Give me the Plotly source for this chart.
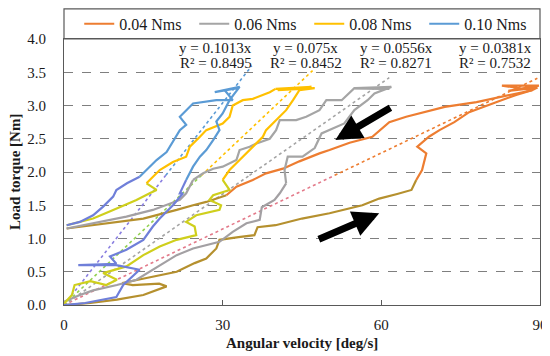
import plotly.graph_objects as go

# ---------------- data ----------------
damping_labels = ["0.04 Nms", "0.06 Nms", "0.08 Nms", "0.10 Nms"]
main_colors = ["#ED7D31", "#A5A5A5", "#FFC000", "#5B9BD5"]
low_colors = ["#B5902E", "#A3A0A3", "#CFCF1C", "#6F7FD9"]
trend_low_colors = ["#E37A8A", "#A5A5A5", "#92D050", "#8A7FE0"]

slopes = [0.0381, 0.0556, 0.075, 0.1013]
r2 = [0.7532, 0.8271, 0.8452, 0.8495]
trend_x_end = [89.5, 61.5, 47.0, 35.5]

# 0.04 Nms
v004_load_low_x = [0, 5, 10, 15, 19.4, 18, 13, 11, 14, 18, 21.3, 24.7, 26.9, 28.8, 29.4, 33, 36, 36.6, 40, 45, 50.2, 56.4, 59.6, 63, 65.7, 66.6]
v004_load_low_y = [0, 0.03, 0.08, 0.15, 0.28, 0.32, 0.3, 0.33, 0.38, 0.44, 0.5, 0.63, 0.7, 0.85, 0.98, 1.02, 1.05, 1.17, 1.2, 1.3, 1.38, 1.5, 1.6, 1.67, 1.73, 1.88]
v004_load_high_x = [66.6, 67.7, 68.5, 66.8, 69, 71, 73.8, 76.6, 81.7, 85.5, 88.5, 82.8, 89.8, 84, 89.5]
v004_load_high_y = [1.88, 2.03, 2.28, 2.38, 2.53, 2.63, 2.75, 2.9, 3.05, 3.16, 3.23, 3.3, 3.3, 3.22, 3.27]
v004_unload_high_x = [89.5, 88.5, 78, 72, 64.7, 61.5, 58.3, 54, 50.2, 48.3, 44.5, 41.4, 38.2, 35.7, 32.6, 30.7]
v004_unload_high_y = [3.27, 3.23, 3.05, 2.98, 2.83, 2.75, 2.53, 2.44, 2.33, 2.28, 2.16, 2.05, 1.98, 1.88, 1.78, 1.65]
v004_unload_low_x = [30.7, 26.9, 24.4, 21.3, 15, 8.7, 0.5]
v004_unload_low_y = [1.65, 1.55, 1.5, 1.43, 1.3, 1.23, 1.15]

# 0.06 Nms
v006_load_low_x = [0, 3, 5.5, 10, 13.7, 18.1, 21.3, 24.4, 29.4, 31.9, 34.5, 37, 37.4, 39.8, 40.8, 42]
v006_load_low_y = [0.05, 0.15, 0.22, 0.3, 0.38, 0.6, 0.75, 0.85, 0.95, 1.1, 1.23, 1.28, 1.47, 1.58, 1.68, 1.83]
v006_load_high_x = [42, 41.7, 42.3, 45.1, 47.4, 48.7, 53, 54.9, 57.4, 58.7, 61.9, 55, 61.5]
v006_load_high_y = [1.83, 2.03, 2.23, 2.23, 2.36, 2.58, 2.73, 2.93, 3.08, 3.18, 3.28, 3.26, 3.25]
v006_unload_high_x = [61.5, 54.9, 52.5, 49.6, 48.3, 45.8, 43.9, 40.8, 40.1, 38.9, 36.4, 35.1, 33.2, 32.6, 30, 28.2, 26.3, 24.4]
v006_unload_high_y = [3.25, 3.26, 3.08, 3.08, 2.93, 2.83, 2.78, 2.78, 2.63, 2.5, 2.43, 2.38, 2.33, 2.18, 2.08, 2.05, 1.98, 1.88]
v006_unload_low_x = [24.4, 23.1, 21.9, 16.8, 11.8, 5.5, 0.5]
v006_unload_low_y = [1.88, 1.68, 1.58, 1.43, 1.33, 1.23, 1.15]

# 0.08 Nms
v008_load_low_x = [0, 1.5, 2, 5, 8, 10, 7.4, 11.8, 15, 18.1, 21.3, 25, 24.7, 23.1, 25, 29.4, 29.7, 27.5, 28.2, 31.3, 30]
v008_load_low_y = [0.02, 0.15, 0.3, 0.36, 0.3, 0.38, 0.48, 0.58, 0.75, 0.88, 0.98, 1.05, 1.18, 1.25, 1.35, 1.43, 1.5, 1.58, 1.65, 1.73, 1.88]
v008_load_high_x = [30, 31.3, 33.2, 34.5, 36.4, 37.6, 38.2, 39.5, 40.8, 42, 43.3, 44.5, 47.4, 40.4, 46.8, 40]
v008_load_high_y = [1.88, 2.03, 2.18, 2.28, 2.43, 2.53, 2.63, 2.73, 2.83, 2.93, 3.08, 3.23, 3.26, 3.23, 3.28, 3.25]
v008_unload_high_x = [40, 38.9, 35.7, 33.8, 31.9, 31.3, 30, 26.9, 25.7, 23.8, 23.1, 20.6, 18.1, 16.8, 15.6]
v008_unload_high_y = [3.25, 3.2, 3.1, 3.08, 3.0, 2.83, 2.73, 2.63, 2.53, 2.38, 2.23, 2.15, 2.03, 1.93, 1.83]
v008_unload_low_x = [15.6, 17.5, 16.2, 13.7, 9.3, 5.5, 0.5]
v008_unload_low_y = [1.83, 1.73, 1.68, 1.58, 1.43, 1.3, 1.2]

# 0.10 Nms
v010_load_low_x = [0, 4, 9.9, 11.2, 14.3, 9.9, 2.7, 9.9, 8.7, 11.8, 15, 16.8, 18.1, 20.6, 22.5, 21.9, 22.5, 23.1]
v010_load_low_y = [0, 0.03, 0.12, 0.3, 0.53, 0.6, 0.6, 0.62, 0.73, 0.83, 0.98, 1.18, 1.3, 1.5, 1.68, 1.68, 1.78, 1.88]
v010_load_high_x = [23.1, 24.4, 25.7, 26.9, 28.2, 29.4, 28.8, 30, 31.3, 32.6, 33.2, 28.5, 32.8, 30.4]
v010_load_high_y = [1.88, 2.08, 2.23, 2.33, 2.48, 2.63, 2.76, 2.88, 3.08, 3.23, 3.28, 3.2, 3.26, 3.23]
v010_unload_high_x = [30.4, 31.9, 28.8, 24.4, 21.9, 23.1, 21.9, 20.6, 19.4, 17.5, 15.6, 14.3]
v010_unload_high_y = [3.23, 3.08, 3.08, 3.03, 2.83, 2.71, 2.63, 2.46, 2.3, 2.18, 2.03, 1.93]
v010_unload_low_x = [14.3, 11.9, 9.9, 9.3, 7.4, 5.5, 3, 0.5]
v010_unload_low_y = [1.93, 1.83, 1.73, 1.63, 1.48, 1.35, 1.25, 1.2]

x_ticks = [0, 30, 60, 90]
y_ticks = [0.0, 0.5, 1.0, 1.5, 2.0, 2.5, 3.0, 3.5, 4.0]

series = [
    (v004_load_low_x, v004_load_low_y, v004_load_high_x, v004_load_high_y,
     v004_unload_high_x, v004_unload_high_y, v004_unload_low_x, v004_unload_low_y),
    (v006_load_low_x, v006_load_low_y, v006_load_high_x, v006_load_high_y,
     v006_unload_high_x, v006_unload_high_y, v006_unload_low_x, v006_unload_low_y),
    (v008_load_low_x, v008_load_low_y, v008_load_high_x, v008_load_high_y,
     v008_unload_high_x, v008_unload_high_y, v008_unload_low_x, v008_unload_low_y),
    (v010_load_low_x, v010_load_low_y, v010_load_high_x, v010_load_high_y,
     v010_unload_high_x, v010_unload_high_y, v010_unload_low_x, v010_unload_low_y),
]

FONT = "Liberation Serif"
TXT = "#1a1a1a"
fig = go.Figure()

# trendlines (dotted), drawn first
split_y = 1.95
for i, s in enumerate(slopes):
    xs = split_y / s
    fig.add_trace(go.Scatter(x=[0, xs], y=[0, s * xs], mode="lines",
                             line=dict(color=trend_low_colors[i], width=1.6, dash="dot"),
                             showlegend=False, hoverinfo="skip"))
    fig.add_trace(go.Scatter(x=[xs, trend_x_end[i]], y=[s * xs, s * trend_x_end[i]], mode="lines",
                             line=dict(color=main_colors[i], width=1.6, dash="dot"),
                             showlegend=False, hoverinfo="skip"))

for i, seg in enumerate(series):
    llx, lly, lhx, lhy, uhx, uhy, ulx, uly = seg
    fig.add_trace(go.Scatter(x=llx, y=lly, mode="lines", line=dict(color=low_colors[i], width=2.2),
                             showlegend=False))
    fig.add_trace(go.Scatter(x=ulx, y=uly, mode="lines", line=dict(color=low_colors[i], width=2.2),
                             showlegend=False))
    fig.add_trace(go.Scatter(x=lhx, y=lhy, mode="lines", line=dict(color=main_colors[i], width=2.2),
                             name=damping_labels[i], showlegend=True))
    fig.add_trace(go.Scatter(x=uhx, y=uhy, mode="lines", line=dict(color=main_colors[i], width=2.2),
                             showlegend=False))

# regression equations
eq_x = [81.5, 62.8, 45.7, 28.7]
for i in range(4):
    fig.add_annotation(x=eq_x[i], y=3.86, xref="x", yref="y", showarrow=False,
                       text=f"y = {slopes[i]}x", font=dict(family=FONT, size=15, color=TXT))
    fig.add_annotation(x=eq_x[i], y=3.64, xref="x", yref="y", showarrow=False,
                       text=f"R² = {r2[i]}", font=dict(family=FONT, size=15, color=TXT))

# direction arrows
fig.add_annotation(x=51.3, y=2.48, ax=62.0, ay=2.98, xref="x", yref="y", axref="x", ayref="y",
                   showarrow=True, arrowhead=2, arrowsize=0.75, arrowwidth=7, arrowcolor="black", text="")
fig.add_annotation(x=59.6, y=1.38, ax=47.9, ay=0.98, xref="x", yref="y", axref="x", ayref="y",
                   showarrow=True, arrowhead=2, arrowsize=0.75, arrowwidth=7, arrowcolor="black", text="")

# axis titles
fig.add_annotation(x=0.5, y=-0.143, xref="paper", yref="paper", showarrow=False,
                   text="<b>Angular velocity [deg/s]</b>", font=dict(family=FONT, size=15, color=TXT),
                   yanchor="middle")
fig.add_annotation(x=-0.103, y=0.5, xref="paper", yref="paper", showarrow=False, textangle=-90,
                   text="<b>Load torque [Nm]</b>", font=dict(family=FONT, size=15, color=TXT),
                   xanchor="center")

# legend box
fig.add_shape(type="rect", xref="paper", yref="paper", x0=0, x1=1, y0=1, y1=1.113,
              line=dict(color="#595959", width=1.2), fillcolor="rgba(0,0,0,0)")

# page body has an 8px margin, so the figure is 542x348 placed at (8,8)
fig.update_layout(
    width=542, height=348,
    margin=dict(l=56, r=10, t=31, b=51, autoexpand=False),
    paper_bgcolor="white", plot_bgcolor="white",
    font=dict(family=FONT, size=14, color=TXT),
    showlegend=True,
    legend=dict(orientation="h", x=0.032, xanchor="left", y=1.057, yanchor="middle",
                font=dict(family=FONT, size=16, color=TXT),
                entrywidth=70, entrywidthmode="pixels", bgcolor="rgba(0,0,0,0)",
                itemclick=False),
    xaxis=dict(range=[0, 90], tickvals=x_ticks, ticktext=[str(v) for v in x_ticks],
               showgrid=False, zeroline=False, showline=True, mirror=True, automargin=False,
               linecolor="#595959", linewidth=1.2, ticks="inside", ticklen=5, tickcolor="#595959",
               ticklabelstandoff=6,
               tickfont=dict(family=FONT, size=15, color=TXT)),
    yaxis=dict(range=[0, 4.0], tickvals=y_ticks, ticktext=[f"{v:.1f}" for v in y_ticks],
               showgrid=True, gridcolor="#7f7f7f", gridwidth=1, griddash="dash",
               zeroline=False, showline=True, mirror=True, automargin=False,
               linecolor="#595959", linewidth=1.2, ticks="",
               ticklabelstandoff=14,
               tickfont=dict(family=FONT, size=15, color=TXT)),
)

fig.write_html("out.html")
